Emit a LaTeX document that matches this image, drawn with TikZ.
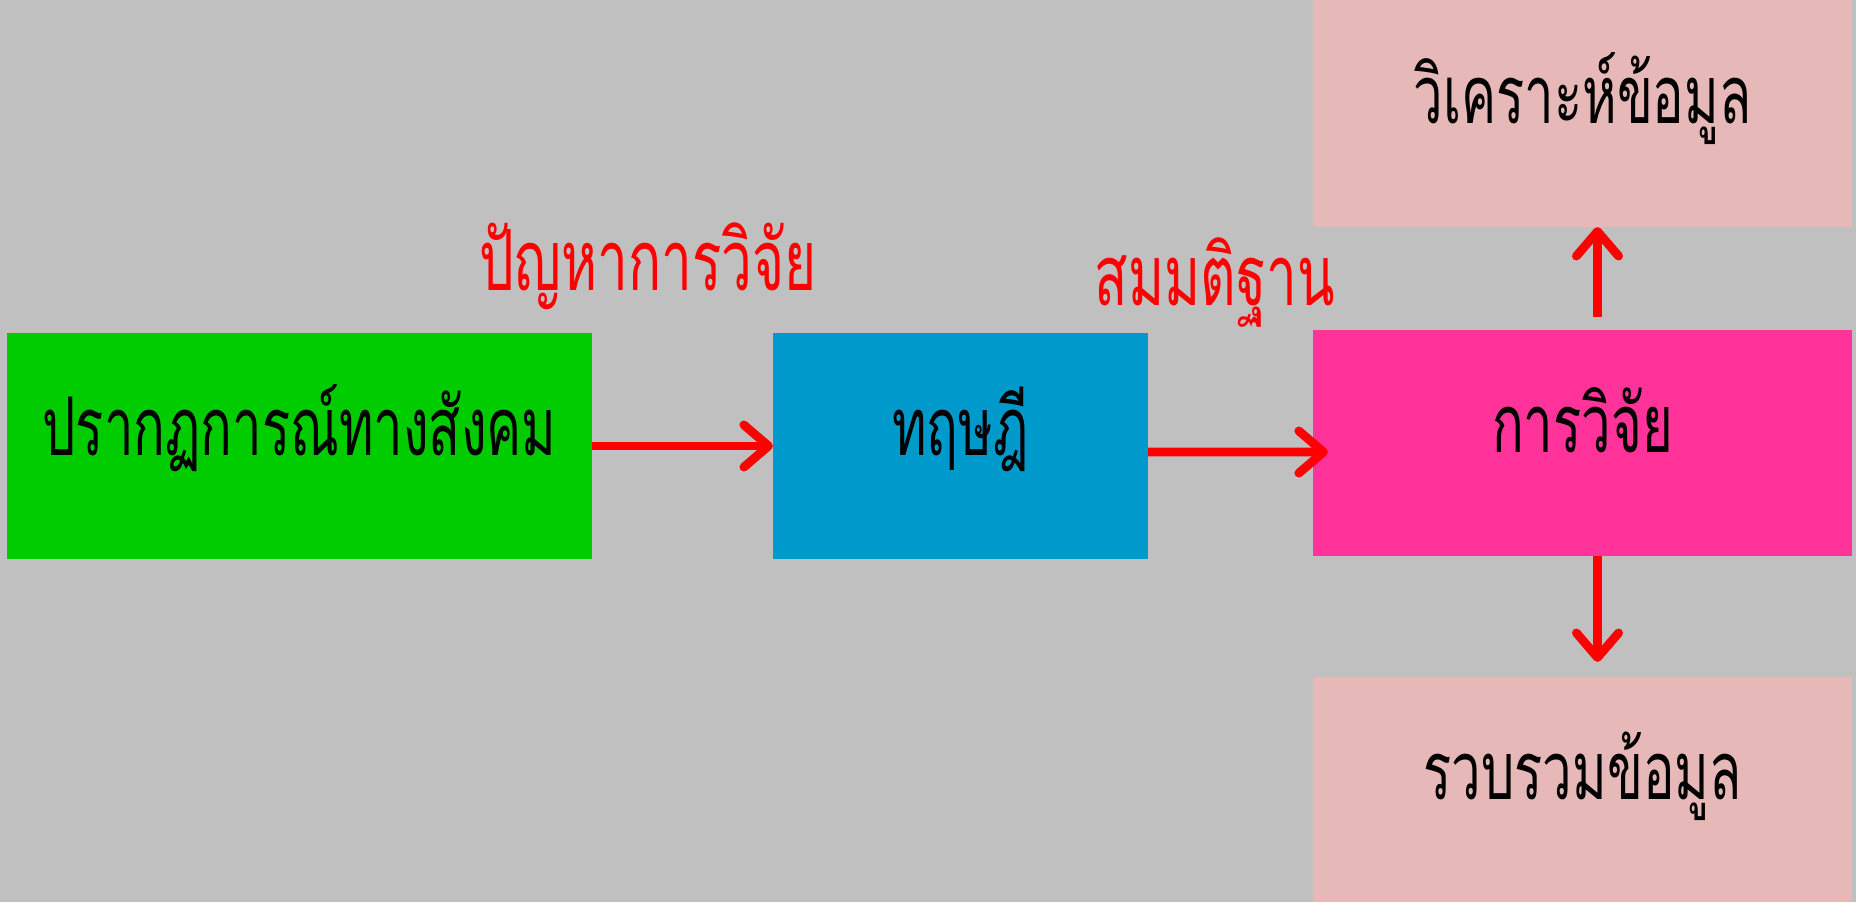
\documentclass[tikz,border=0pt]{standalone}
\usepackage{fontspec}
\newfontfamily\thaifont[Script=Thai, FakeStretch=0.65]{Loma}
\usetikzlibrary{arrows.meta}
\definecolor{bggray}{RGB}{192,192,192}
\definecolor{phenomgreen}{RGB}{0,204,0}
\definecolor{theoryblue}{RGB}{0,153,204}
\definecolor{researchpink}{RGB}{255,51,153}
\definecolor{datapink}{RGB}{230,184,183}
\tikzset{
	box/.style={inner sep=0pt, outer sep=0pt, text height=0.5cm, text depth=0.31cm, font=\thaifont\fontsize{23}{27}\selectfont},
	redlabel/.style={anchor=base, text=red, font=\thaifont\fontsize{24}{28}\selectfont},
	arr/.style={red, line width=2.5pt, -{Straight Barb[length=7pt, width=12pt, round]}}
}

\begin{document}
\begin{tikzpicture}[x=0.01cm, y=-0.01cm]
			%%%%% START %%%%%
			
			\fill[bggray] (0, 0) rectangle (1856, 902);
			\useasboundingbox (0, 0) rectangle (1856, 902);
			
			\node[box, fill=phenomgreen, minimum width=5.85cm, minimum height=2.26cm] (phenom) at (299.5, 446) {ปรากฏการณ์ทางสังคม};
			\node[box, fill=theoryblue, minimum width=3.75cm, minimum height=2.26cm] (theory) at (960.5, 446) {ทฤษฎี};
			\node[box, fill=researchpink, minimum width=5.39cm, minimum height=2.26cm] (research) at (1582.5, 443) {การวิจัย};
			
			\node[box, fill=datapink, minimum width=5.39cm, minimum height=2.27cm] (analysis) at (1582.5, 113.5) {วิเคราะห์ข้อมูล};
			\node[box, fill=datapink, minimum width=5.39cm, minimum height=2.25cm] (collect) at (1582.5, 789.5) {รวบรวมข้อมูล};
			
			\node[redlabel] (problem) at (648, 290) {ปัญหาการวิจัย};
			\node[redlabel] (hypo) at (1215, 305) {สมมติฐาน};
			
			\draw[arr] (phenom.east) -- (theory.west);
			\draw[arr] ([yshift=-0.06cm]theory.east) -- ([yshift=-0.09cm, xshift=0.15cm]research.west);
			\draw[arr] ([xshift=0.15cm, yshift=0.13cm]research.north) -- ([xshift=0.15cm]analysis.south);
			\draw[arr] ([xshift=0.15cm]research.south) -- ([xshift=0.15cm, yshift=0.15cm]collect.north);
			
			%%%%% END %%%%%
\end{tikzpicture}
\end{document}
